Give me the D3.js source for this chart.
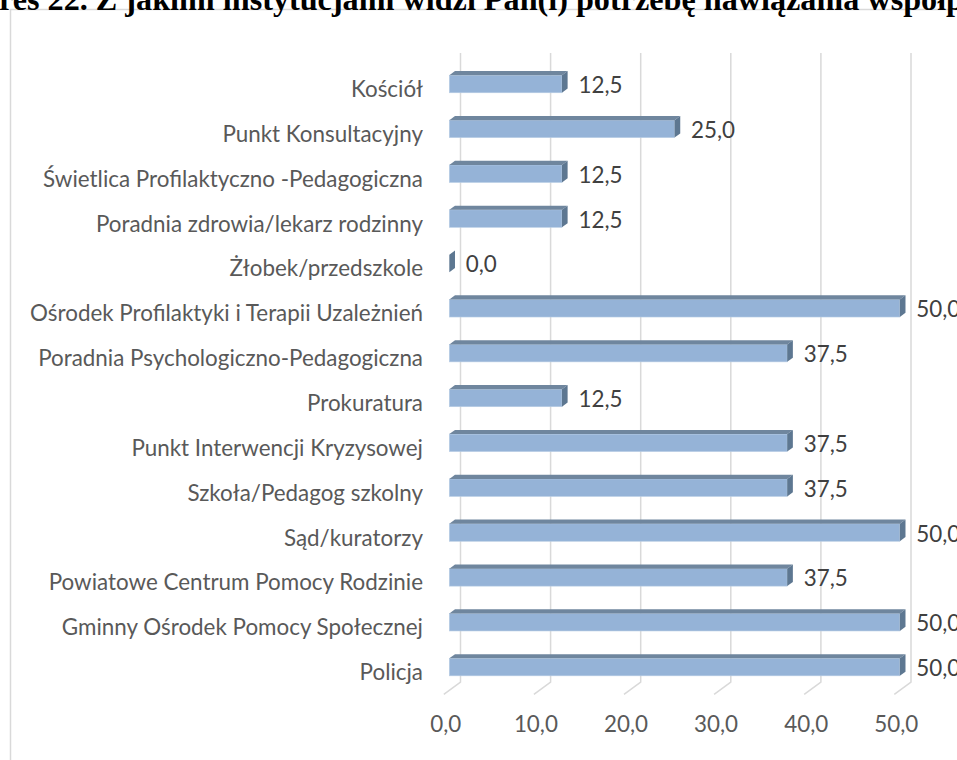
<!DOCTYPE html>
<html>
<head>
<meta charset="utf-8">
<script src="https://cdn.jsdelivr.net/npm/d3@7"></script>
<style>
  body { margin: 0; background: #fff; overflow: hidden; }
  .cat { font-family: Lato, sans-serif; font-size: 22.4px; fill: #595959; }
  .tick { font-family: Lato, sans-serif; font-size: 22.4px; fill: #595959; }
  .val { font-family: Lato, sans-serif; font-size: 22.4px; fill: #404040; }
  .title { font-family: "Liberation Serif", serif; font-weight: bold; font-size: 32.2px; fill: #000; }
</style>
</head>
<body>
<script>
var titleText = "Wykres 22. Z jakimi instytucjami widzi Pan(i) potrzebę nawiązania współpracy"

var categories = ["Kościół", "Punkt Konsultacyjny", "Świetlica Profilaktyczno -Pedagogiczna",
  "Poradnia zdrowia/lekarz rodzinny", "Żłobek/przedszkole", "Ośrodek Profilaktyki i Terapii Uzależnień",
  "Poradnia Psychologiczno-Pedagogiczna", "Prokuratura", "Punkt Interwencji Kryzysowej",
  "Szkoła/Pedagog szkolny", "Sąd/kuratorzy", "Powiatowe Centrum Pomocy Rodzinie",
  "Gminny Ośrodek Pomocy Społecznej", "Policja"]
var values = [12.5, 25.0, 12.5, 12.5, 0.0, 50.0, 37.5, 12.5, 37.5, 37.5, 50.0, 37.5, 50.0, 50.0]
var tickValues = [0, 10, 20, 30, 40, 50]

var width = 957, height = 760
var fmt = function(v) { return v.toFixed(1).replace(".", ",") }

// back wall of the 3d plot, and the depth vector of the floor
var wallTop = 53, wallBottom = 682
var depth = { dx: -16.7, dy: 12.3 }
var barFront = 0.67, barBack = 0.33

var svg = d3.select("body").append("svg")
    .attr("width", width)
    .attr("height", height)

// chart frame
svg.append("rect")
    .attr("x", 10.5).attr("y", 9.5)
    .attr("width", 1000).attr("height", 800)
    .attr("fill", "none")
    .attr("stroke", "#d9d9d9")
    .attr("stroke-width", 1.5)

// title, cut by the page edges like in the source
var title = svg.append("text")
    .attr("class", "title")
    .attr("y", 10)
    .text("Wyk")
var prefixW = title.node().getComputedTextLength()
title.text(titleText).attr("x", -prefixW - 1)

var x = d3.scaleLinear().domain([0, 50]).range([460.5, 911])

// rows in front-face coordinates
var y = d3.scaleBand()
    .domain(categories)
    .range([61.6, 61.6 + 44.85 * categories.length])
    .paddingInner(0.61)
    .paddingOuter(0.305)

// grid on the back wall + floor diagonals
var grid = svg.append("g")
grid.selectAll(".gl")
    .data(tickValues)
    .enter().append("path")
    .attr("class", "gl")
    .attr("d", function(d) {
      return "M" + x(d) + "," + wallTop + "V" + wallBottom +
        "l" + depth.dx + "," + depth.dy
    })
    .attr("fill", "none")
    .attr("stroke", "#d9d9d9")
    .attr("stroke-width", 1.5)

// tick labels
svg.selectAll(".tick")
    .data(tickValues)
    .enter().append("text")
    .attr("class", "tick")
    .attr("x", function(d) { return x(d) + depth.dx + 2 })
    .attr("y", 732)
    .attr("text-anchor", "middle")
    .text(fmt)

// category labels
svg.selectAll(".cat")
    .data(categories)
    .enter().append("text")
    .attr("class", "cat")
    .attr("x", 423)
    .attr("y", function(d) { return y(d) + y.bandwidth() / 2 + 13 })
    .attr("text-anchor", "end")
    .text(function(d) { return d })

// 3d bars
var fx = depth.dx * barFront, bx = depth.dx * barBack
var ddx = bx - fx, ddy = (depth.dy * barBack) - (depth.dy * barFront)
var bh = y.bandwidth()

var bars = svg.selectAll(".bar")
    .data(values)
    .enter().append("g")
    .attr("class", "bar")

bars.append("rect")
    .attr("x", x(0) + fx)
    .attr("y", function(d, i) { return y(categories[i]) })
    .attr("width", function(d) { return x(d) - x(0) })
    .attr("height", bh)
    .attr("fill", "#95b3d7")
    .attr("stroke", "#b8cde4")
    .attr("stroke-width", 0.6)

bars.append("path")
    .attr("d", function(d, i) {
      var x0 = x(0) + fx, x1 = x(d) + fx, y0 = y(categories[i])
      return "M" + x0 + "," + y0 + "L" + x1 + "," + y0 +
        "l" + ddx + "," + ddy + "L" + (x0 + ddx) + "," + (y0 + ddy) + "Z"
    })
    .attr("fill", "#6f869e")

bars.append("path")
    .attr("d", function(d, i) {
      var x1 = x(d) + fx, y0 = y(categories[i])
      return "M" + x1 + "," + y0 + "l" + ddx + "," + ddy +
        "v" + bh + "l" + (-ddx) + "," + (-ddy) + "Z"
    })
    .attr("fill", "#5d7791")

// value labels
svg.selectAll(".val")
    .data(values)
    .enter().append("text")
    .attr("class", "val")
    .attr("x", function(d) { return x(d) + fx + 16.5 })
    .attr("y", function(d, i) { return y(categories[i]) + bh / 2 + 9 })
    .text(fmt)
</script>
</body>
</html>
